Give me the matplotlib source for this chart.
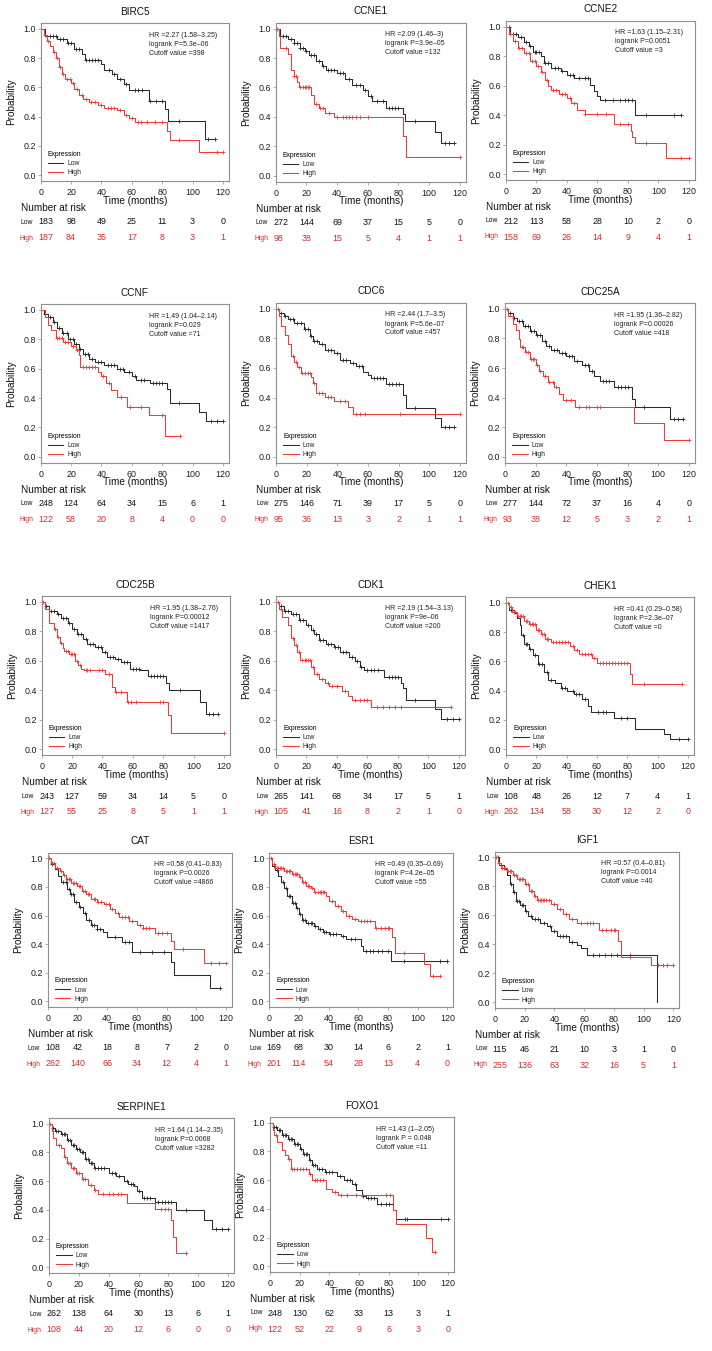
import matplotlib
import matplotlib.pyplot as plt
import numpy as np
from matplotlib import transforms

matplotlib.use("agg")
plt.rcParams["font.family"] = ["Liberation Sans", "DejaVu Sans"]

# ---------------------------------------------------------------- data
GENES = ["BIRC5", "CCNE1", "CCNE2", "CCNF", "CDC6", "CDC25A", "CDC25B",
         "CDK1", "CHEK1", "CAT", "ESR1", "IGF1", "SERPINE1", "FOXO1"]

RISK_TIMES = [0, 20, 40, 60, 80, 100, 120]

# BIRC5
BIRC5_LOW_T = [0, 3, 11, 17, 22, 27, 29, 40, 42, 47, 50, 55, 58, 71, 82, 84, 108, 115]
BIRC5_LOW_S = [1.0, 0.95, 0.93, 0.90, 0.86, 0.83, 0.79, 0.76, 0.72, 0.69, 0.66, 0.62, 0.58, 0.51, 0.45, 0.37, 0.25, 0.25]
BIRC5_LOW_C = [6, 8, 10, 13, 15, 18, 20, 23, 25, 30, 32, 34, 36, 38, 45, 48, 52, 56, 62, 64, 67, 72, 76, 80, 91, 110, 115]
BIRC5_HIGH_T = [0, 2, 4, 6, 8, 10, 12, 14, 16, 20, 22, 25, 28, 32, 38, 42, 50, 55, 58, 62, 83, 85, 104, 120]
BIRC5_HIGH_S = [1.0, 0.96, 0.92, 0.88, 0.84, 0.80, 0.74, 0.69, 0.66, 0.63, 0.59, 0.55, 0.52, 0.50, 0.48, 0.46, 0.445, 0.41, 0.39, 0.365, 0.30, 0.24, 0.16, 0.16]
BIRC5_HIGH_C = [3, 5, 9, 11, 13, 15, 17, 19, 21, 24, 27, 30, 33, 36, 40, 44, 46, 48, 52, 56, 60, 64, 66, 70, 75, 80, 91, 116, 120]
BIRC5_STATS = ["HR =2.27 (1.58–3.25)", "logrank P=5.3e–06", "Cutoff value =398"]
BIRC5_RISK_LOW = [183, 98, 49, 25, 11, 3, 0]
BIRC5_RISK_HIGH = [187, 84, 35, 17, 8, 3, 1]

# CCNE1
CCNE1_LOW_T = [0, 3, 8, 12, 16, 19, 22, 26, 30, 33, 40, 45, 50, 57, 60, 63, 72, 83, 84, 104, 108, 116]
CCNE1_LOW_S = [1.0, 0.95, 0.93, 0.90, 0.87, 0.85, 0.82, 0.78, 0.745, 0.72, 0.70, 0.655, 0.615, 0.585, 0.54, 0.505, 0.46, 0.42, 0.37, 0.295, 0.22, 0.22]
CCNE1_LOW_C = [5, 7, 10, 12, 14, 16, 18, 20, 23, 25, 28, 31, 34, 36, 38, 42, 44, 48, 52, 55, 58, 62, 66, 70, 74, 76, 78, 80, 91, 110, 113, 116]
CCNE1_HIGH_T = [0, 2, 3, 8, 10, 12, 14, 15, 23, 25, 28, 32, 38, 83, 85, 120]
CCNE1_HIGH_S = [1.0, 0.95, 0.87, 0.825, 0.72, 0.68, 0.64, 0.60, 0.55, 0.49, 0.46, 0.43, 0.40, 0.27, 0.13, 0.13]
CCNE1_HIGH_C = [1, 7, 12, 13, 16, 18, 19, 20, 21, 22, 26, 29, 31, 35, 40, 44, 46, 48, 50, 52, 55, 60, 120]
CCNE1_STATS = ["HR =2.09 (1.46–3)", "logrank P=3.9e–05", "Cutoff value =132"]
CCNE1_RISK_LOW = [272, 144, 69, 37, 15, 5, 0]
CCNE1_RISK_HIGH = [98, 38, 15, 5, 4, 1, 1]

# CCNE2
CCNE2_LOW_T = [0, 3, 8, 12, 15, 18, 23, 25, 30, 36, 40, 45, 55, 58, 60, 62, 85, 115]
CCNE2_LOW_S = [1.0, 0.95, 0.93, 0.895, 0.87, 0.83, 0.80, 0.755, 0.72, 0.70, 0.67, 0.65, 0.605, 0.56, 0.53, 0.505, 0.40, 0.40]
CCNE2_LOW_C = [2, 5, 7, 10, 13, 16, 19, 20, 22, 26, 28, 32, 34, 37, 42, 44, 48, 52, 54, 65, 70, 75, 78, 80, 83, 92, 110, 115]
CCNE2_HIGH_T = [0, 2, 5, 8, 12, 16, 20, 23, 26, 28, 30, 35, 40, 43, 47, 52, 71, 82, 83, 85, 105, 120]
CCNE2_HIGH_S = [1.0, 0.95, 0.90, 0.857, 0.82, 0.77, 0.73, 0.69, 0.64, 0.60, 0.57, 0.545, 0.515, 0.48, 0.435, 0.41, 0.34, 0.295, 0.25, 0.214, 0.107, 0.107]
CCNE2_HIGH_C = [3, 6, 9, 11, 13, 15, 17, 19, 21, 24, 27, 31, 33, 37, 39, 42, 45, 52, 60, 66, 75, 80, 92, 115, 120]
CCNE2_STATS = ["HR =1.63 (1.15–2.31)", "logrank P=0.0051", "Cutoff value =3"]
CCNE2_RISK_LOW = [212, 113, 58, 28, 10, 2, 0]
CCNE2_RISK_HIGH = [158, 69, 26, 14, 9, 4, 1]

# CCNF
CCNF_LOW_T = [0, 2, 5, 8, 11, 14, 18, 22, 25, 28, 32, 36, 42, 50, 55, 60, 63, 72, 83, 85, 104, 109, 120]
CCNF_LOW_S = [1.0, 0.97, 0.95, 0.92, 0.88, 0.84, 0.805, 0.77, 0.735, 0.70, 0.665, 0.647, 0.624, 0.60, 0.574, 0.547, 0.525, 0.50, 0.46, 0.364, 0.305, 0.244, 0.244]
CCNF_LOW_C = [3, 6, 9, 12, 15, 17, 19, 21, 23, 26, 29, 31, 34, 38, 40, 44, 46, 48, 52, 54, 58, 62, 66, 68, 74, 76, 78, 80, 91, 112, 116, 120]
CCNF_HIGH_T = [0, 3, 5, 7, 10, 15, 20, 23, 25, 26, 38, 40, 43, 46, 50, 57, 71, 82, 92]
CCNF_HIGH_S = [1.0, 0.95, 0.90, 0.86, 0.81, 0.78, 0.756, 0.727, 0.69, 0.613, 0.574, 0.55, 0.50, 0.453, 0.41, 0.34, 0.282, 0.141, 0.141]
CCNF_HIGH_C = [11, 12, 14, 16, 18, 21, 24, 28, 30, 32, 34, 36, 41, 45, 53, 59, 66, 80, 92]
CCNF_STATS = ["HR =1.49 (1.04–2.14)", "logrank P=0.029", "Cutoff value =71"]
CCNF_RISK_LOW = [248, 124, 64, 34, 15, 6, 1]
CCNF_RISK_HIGH = [122, 58, 20, 8, 4, 0, 0]

# CDC6
CDC6_LOW_T = [0, 2, 5, 8, 12, 18, 22, 24, 28, 32, 38, 42, 48, 52, 57, 60, 62, 72, 83, 85, 104, 108, 116]
CDC6_LOW_S = [1.0, 0.97, 0.95, 0.93, 0.90, 0.86, 0.814, 0.78, 0.76, 0.723, 0.70, 0.655, 0.635, 0.614, 0.575, 0.552, 0.53, 0.49, 0.416, 0.332, 0.264, 0.20, 0.20]
CDC6_LOW_C = [3, 6, 9, 11, 14, 16, 19, 21, 23, 25, 27, 30, 34, 36, 40, 44, 46, 50, 54, 56, 64, 66, 68, 70, 74, 76, 78, 80, 91, 110, 113, 116]
CDC6_HIGH_T = [0, 2, 3, 6, 8, 10, 12, 14, 16, 23, 24, 26, 32, 38, 47, 50, 120]
CDC6_HIGH_S = [1.0, 0.95, 0.88, 0.82, 0.76, 0.68, 0.64, 0.605, 0.568, 0.536, 0.50, 0.432, 0.405, 0.377, 0.336, 0.29, 0.29]
CDC6_HIGH_C = [1, 11, 13, 15, 17, 19, 21, 22, 25, 28, 30, 34, 36, 42, 45, 52, 55, 58, 81, 120]
CDC6_STATS = ["HR =2.44 (1.7–3.5)", "logrank P=5.6e–07", "Cutoff value =457"]
CDC6_RISK_LOW = [275, 146, 71, 39, 17, 5, 0]
CDC6_RISK_HIGH = [95, 36, 13, 3, 2, 1, 1]

# CDC25A
CDC25A_LOW_T = [0, 2, 5, 8, 12, 16, 20, 24, 27, 30, 35, 40, 45, 50, 55, 58, 62, 71, 83, 85, 108, 116]
CDC25A_LOW_S = [1.0, 0.97, 0.94, 0.92, 0.886, 0.85, 0.823, 0.784, 0.75, 0.723, 0.705, 0.68, 0.648, 0.618, 0.58, 0.545, 0.51, 0.473, 0.39, 0.34, 0.255, 0.255]
CDC25A_LOW_C = [3, 6, 9, 11, 13, 15, 17, 19, 21, 23, 26, 29, 32, 34, 37, 39, 42, 44, 47, 52, 54, 57, 64, 66, 68, 74, 76, 78, 80, 91, 110, 113, 116]
CDC25A_HIGH_T = [0, 2, 5, 7, 9, 10, 13, 16, 20, 22, 25, 28, 32, 35, 38, 46, 84, 104, 120]
CDC25A_HIGH_S = [1.0, 0.95, 0.90, 0.86, 0.795, 0.74, 0.71, 0.66, 0.62, 0.58, 0.545, 0.505, 0.473, 0.427, 0.382, 0.34, 0.227, 0.114, 0.114]
CDC25A_HIGH_C = [1, 11, 12, 14, 15, 17, 18, 19, 21, 23, 26, 29, 31, 33, 40, 43, 48, 53, 55, 60, 62, 120]
CDC25A_STATS = ["HR =1.95 (1.36–2.82)", "logrank P=0.00026", "Cutoff value =418"]
CDC25A_RISK_LOW = [277, 144, 72, 37, 16, 4, 0]
CDC25A_RISK_HIGH = [93, 38, 12, 5, 3, 2, 1]

# CDC25B
CDC25B_LOW_T = [0, 2, 5, 10, 13, 17, 20, 23, 27, 30, 35, 40, 43, 48, 52, 58, 65, 70, 82, 84, 104, 108, 116]
CDC25B_LOW_S = [1.0, 0.97, 0.94, 0.92, 0.89, 0.86, 0.818, 0.784, 0.75, 0.716, 0.693, 0.66, 0.625, 0.61, 0.59, 0.545, 0.535, 0.50, 0.45, 0.40, 0.318, 0.239, 0.239]
CDC25B_LOW_C = [3, 6, 8, 11, 14, 16, 18, 21, 24, 26, 29, 32, 34, 37, 39, 42, 45, 47, 50, 54, 56, 60, 62, 64, 72, 74, 76, 78, 80, 91, 110, 113, 116]
CDC25B_HIGH_T = [0, 2, 5, 8, 10, 12, 14, 15, 18, 22, 24, 26, 28, 42, 46, 48, 56, 83, 85, 120]
CDC25B_HIGH_S = [1.0, 0.95, 0.86, 0.818, 0.76, 0.72, 0.69, 0.666, 0.648, 0.60, 0.57, 0.545, 0.534, 0.51, 0.42, 0.39, 0.318, 0.23, 0.107, 0.107]
CDC25B_HIGH_C = [1, 9, 11, 13, 16, 17, 19, 20, 21, 23, 25, 29, 30, 32, 38, 40, 44, 49, 52, 57, 59, 62, 78, 80, 120]
CDC25B_STATS = ["HR =1.95 (1.38–2.76)", "logrank P=0.00012", "Cutoff value =1417"]
CDC25B_RISK_LOW = [243, 127, 59, 34, 14, 5, 0]
CDC25B_RISK_HIGH = [127, 55, 25, 8, 5, 1, 1]

# CDK1
CDK1_LOW_T = [0, 2, 5, 10, 15, 20, 23, 25, 28, 33, 38, 42, 48, 52, 55, 58, 71, 82, 83, 85, 104, 108, 120]
CDK1_LOW_S = [1.0, 0.97, 0.94, 0.92, 0.875, 0.845, 0.81, 0.78, 0.74, 0.716, 0.693, 0.66, 0.625, 0.60, 0.56, 0.54, 0.49, 0.45, 0.416, 0.334, 0.273, 0.205, 0.205]
CDK1_LOW_C = [3, 6, 8, 11, 13, 16, 18, 21, 24, 26, 29, 31, 34, 36, 39, 41, 44, 46, 50, 53, 56, 60, 62, 64, 67, 74, 76, 78, 80, 91, 112, 116, 120]
CDK1_HIGH_T = [0, 2, 4, 8, 10, 12, 14, 16, 23, 25, 28, 32, 35, 43, 47, 50, 62, 115]
CDK1_HIGH_S = [1.0, 0.95, 0.898, 0.84, 0.757, 0.705, 0.66, 0.607, 0.56, 0.51, 0.477, 0.448, 0.432, 0.398, 0.36, 0.334, 0.289, 0.289]
CDK1_HIGH_C = [1, 3, 11, 13, 15, 17, 19, 20, 21, 22, 24, 27, 30, 34, 37, 40, 45, 52, 55, 58, 60, 66, 70, 74, 78, 82, 115]
CDK1_STATS = ["HR =2.19 (1.54–3.13)", "logrank P=9e–06", "Cutoff value =200"]
CDK1_RISK_LOW = [265, 141, 68, 34, 17, 5, 1]
CDK1_RISK_HIGH = [105, 41, 16, 8, 2, 1, 0]

# CHEK1
CHEK1_LOW_T = [0, 2, 5, 7, 9, 10, 12, 15, 18, 21, 25, 28, 32, 36, 40, 45, 50, 54, 56, 71, 85, 104, 108, 120]
CHEK1_LOW_S = [1.0, 0.948, 0.93, 0.898, 0.846, 0.778, 0.717, 0.687, 0.642, 0.585, 0.528, 0.476, 0.449, 0.415, 0.40, 0.376, 0.34, 0.295, 0.256, 0.21, 0.14, 0.104, 0.07, 0.07]
CHEK1_LOW_C = [3, 11, 13, 14, 16, 19, 22, 24, 27, 30, 37, 39, 44, 46, 48, 52, 61, 64, 66, 76, 80, 114, 120]
CHEK1_HIGH_T = [0, 2, 4, 7, 12, 15, 20, 23, 26, 30, 42, 45, 48, 57, 60, 82, 83, 116]
CHEK1_HIGH_S = [1.0, 0.97, 0.94, 0.907, 0.875, 0.853, 0.816, 0.785, 0.75, 0.732, 0.703, 0.676, 0.653, 0.62, 0.59, 0.517, 0.444, 0.444]
CHEK1_HIGH_C = [1, 3, 5, 6, 8, 9, 10, 11, 13, 14, 16, 17, 18, 19, 21, 22, 24, 25, 27, 28, 31, 33, 35, 37, 39, 41, 44, 47, 50, 52, 54, 56, 58, 62, 64, 66, 68, 70, 72, 74, 76, 78, 80, 91, 116]
CHEK1_STATS = ["HR =0.41 (0.29–0.58)", "logrank P=2.3e–07", "Cutoff value =0"]
CHEK1_RISK_LOW = [108, 48, 26, 12, 7, 4, 1]
CHEK1_RISK_HIGH = [262, 134, 58, 30, 12, 2, 0]

# CAT
CAT_LOW_T = [0, 2, 5, 7, 9, 13, 15, 18, 21, 24, 26, 29, 33, 37, 40, 50, 57, 83, 85, 109, 116]
CAT_LOW_S = [1.0, 0.96, 0.926, 0.88, 0.833, 0.787, 0.748, 0.694, 0.66, 0.618, 0.572, 0.532, 0.509, 0.486, 0.451, 0.417, 0.347, 0.278, 0.185, 0.093, 0.093]
CAT_LOW_C = [3, 10, 12, 14, 16, 17, 19, 22, 25, 28, 30, 31, 33, 35, 45, 52, 55, 62, 70, 78, 116]
CAT_HIGH_T = [0, 2, 5, 8, 10, 12, 16, 20, 23, 26, 29, 33, 38, 42, 45, 48, 55, 60, 64, 72, 83, 85, 105, 120]
CAT_HIGH_S = [1.0, 0.97, 0.93, 0.914, 0.887, 0.856, 0.826, 0.81, 0.775, 0.748, 0.718, 0.694, 0.678, 0.648, 0.62, 0.59, 0.56, 0.532, 0.516, 0.475, 0.424, 0.363, 0.271, 0.271]
CAT_HIGH_C = [1, 3, 4, 6, 9, 11, 13, 14, 15, 17, 18, 19, 21, 22, 24, 25, 27, 28, 31, 32, 34, 36, 39, 41, 43, 47, 50, 52, 54, 57, 62, 64, 66, 68, 74, 77, 80, 91, 110, 115, 120]
CAT_STATS = ["HR =0.58 (0.41–0.83)", "logrank P=0.0026", "Cutoff value =4866"]
CAT_RISK_LOW = [108, 42, 18, 8, 7, 2, 0]
CAT_RISK_HIGH = [262, 140, 66, 34, 12, 4, 1]

# ESR1
ESR1_LOW_T = [0, 2, 4, 6, 8, 10, 12, 15, 18, 20, 22, 25, 30, 33, 36, 40, 48, 52, 62, 63, 82, 120]
ESR1_LOW_S = [1.0, 0.95, 0.92, 0.88, 0.838, 0.79, 0.734, 0.687, 0.653, 0.61, 0.572, 0.549, 0.525, 0.507, 0.486, 0.472, 0.456, 0.437, 0.39, 0.352, 0.282, 0.282]
ESR1_LOW_C = [3, 5, 9, 11, 13, 14, 16, 17, 19, 21, 23, 24, 26, 28, 29, 31, 34, 37, 38, 41, 43, 45, 50, 55, 58, 65, 68, 70, 73, 76, 80, 91, 115, 120]
ESR1_HIGH_T = [0, 2, 4, 10, 15, 20, 22, 25, 28, 30, 38, 40, 44, 48, 52, 56, 60, 71, 83, 85, 104, 108, 115]
ESR1_HIGH_S = [1.0, 0.96, 0.93, 0.91, 0.891, 0.868, 0.838, 0.81, 0.79, 0.762, 0.734, 0.70, 0.665, 0.63, 0.595, 0.576, 0.565, 0.51, 0.451, 0.34, 0.26, 0.174, 0.174]
ESR1_HIGH_C = [1, 3, 5, 6, 7, 8, 9, 11, 12, 13, 14, 16, 17, 18, 19, 21, 23, 24, 26, 27, 29, 31, 33, 34, 35, 36, 37, 42, 46, 50, 54, 58, 62, 64, 66, 68, 72, 75, 78, 80, 81, 91, 110, 115]
ESR1_STATS = ["HR =0.49 (0.35–0.69)", "logrank P=4.2e–05", "Cutoff value =55"]
ESR1_RISK_LOW = [169, 68, 30, 14, 6, 2, 1]
ESR1_RISK_HIGH = [201, 114, 54, 28, 13, 4, 0]

# IGF1
IGF1_LOW_T = [0, 3, 6, 8, 10, 12, 14, 17, 20, 22, 25, 30, 35, 38, 42, 50, 55, 58, 62, 109]
IGF1_LOW_S = [1.0, 0.95, 0.923, 0.876, 0.818, 0.76, 0.70, 0.67, 0.63, 0.596, 0.573, 0.549, 0.526, 0.49, 0.455, 0.414, 0.395, 0.374, 0.327, 0.0]
IGF1_LOW_C = [2, 4, 11, 13, 15, 16, 18, 19, 21, 24, 27, 29, 33, 37, 40, 44, 46, 48, 52, 66, 70, 74, 78, 82, 91]
IGF1_HIGH_T = [0, 2, 4, 8, 12, 15, 20, 23, 26, 28, 38, 42, 46, 50, 55, 70, 83, 85, 105, 120]
IGF1_HIGH_S = [1.0, 0.96, 0.93, 0.91, 0.876, 0.853, 0.818, 0.771, 0.736, 0.708, 0.678, 0.643, 0.607, 0.577, 0.549, 0.498, 0.42, 0.315, 0.257, 0.257]
IGF1_HIGH_C = [1, 3, 5, 6, 7, 9, 10, 11, 13, 14, 16, 17, 18, 19, 21, 22, 24, 25, 27, 29, 30, 31, 32, 33, 34, 36, 40, 44, 48, 52, 58, 62, 64, 66, 72, 75, 78, 80, 81, 91, 110, 113, 116, 120]
IGF1_STATS = ["HR =0.57 (0.4–0.81)", "logrank P=0.0014", "Cutoff value =40"]
IGF1_RISK_LOW = [115, 46, 21, 10, 3, 1, 0]
IGF1_RISK_HIGH = [255, 136, 63, 32, 16, 5, 1]

# SERPINE1
SERPINE1_LOW_T = [0, 2, 4, 8, 12, 15, 18, 21, 24, 27, 30, 40, 45, 50, 53, 57, 59, 62, 71, 85, 104, 109, 120]
SERPINE1_LOW_S = [1.0, 0.97, 0.947, 0.93, 0.888, 0.853, 0.823, 0.802, 0.753, 0.726, 0.69, 0.66, 0.633, 0.598, 0.58, 0.563, 0.528, 0.481, 0.458, 0.40, 0.33, 0.265, 0.265]
SERPINE1_LOW_C = [3, 5, 6, 9, 10, 11, 13, 14, 16, 17, 19, 20, 22, 23, 25, 26, 28, 29, 31, 33, 35, 37, 42, 44, 47, 52, 55, 56, 60, 64, 66, 68, 73, 76, 78, 80, 82, 92, 112, 116, 120]
SERPINE1_HIGH_T = [0, 2, 3, 5, 8, 10, 12, 15, 18, 22, 26, 30, 33, 52, 71, 82, 83, 85, 92]
SERPINE1_HIGH_S = [1.0, 0.95, 0.90, 0.85, 0.83, 0.767, 0.726, 0.69, 0.656, 0.614, 0.574, 0.54, 0.512, 0.451, 0.405, 0.33, 0.209, 0.098, 0.098]
SERPINE1_HIGH_C = [1, 7, 11, 13, 14, 16, 17, 19, 20, 23, 24, 28, 31, 36, 40, 43, 46, 48, 75, 78, 80, 92]
SERPINE1_STATS = ["HR =1.64 (1.14–2.35)", "logrank P=0.0068", "Cutoff value =3282"]
SERPINE1_RISK_LOW = [262, 138, 64, 30, 13, 6, 1]
SERPINE1_RISK_HIGH = [108, 44, 20, 12, 6, 0, 0]

# FOXO1
FOXO1_LOW_T = [0, 2, 5, 8, 12, 16, 20, 22, 26, 28, 32, 37, 45, 50, 55, 58, 62, 65, 72, 83, 85, 120]
FOXO1_LOW_S = [1.0, 0.97, 0.95, 0.916, 0.889, 0.849, 0.819, 0.784, 0.738, 0.708, 0.675, 0.657, 0.63, 0.60, 0.571, 0.529, 0.49, 0.476, 0.432, 0.39, 0.332, 0.332]
FOXO1_LOW_C = [3, 4, 6, 7, 9, 10, 11, 13, 14, 15, 17, 18, 19, 21, 23, 24, 25, 27, 29, 30, 33, 35, 38, 40, 42, 47, 52, 54, 57, 63, 66, 68, 70, 75, 78, 80, 91, 92, 115, 120]
FOXO1_HIGH_T = [0, 2, 3, 5, 8, 10, 12, 14, 26, 28, 38, 42, 46, 83, 85, 105, 109, 111]
FOXO1_HIGH_S = [1.0, 0.95, 0.912, 0.865, 0.807, 0.777, 0.75, 0.68, 0.645, 0.599, 0.54, 0.52, 0.494, 0.39, 0.292, 0.197, 0.10, 0.10]
FOXO1_HIGH_C = [4, 13, 15, 16, 18, 20, 22, 24, 27, 30, 32, 34, 36, 44, 48, 52, 58, 62, 78, 81, 111]
FOXO1_STATS = ["HR =1.43 (1–2.05)", "logrank P = 0.048", "Cutoff value =11"]
FOXO1_RISK_LOW = [248, 130, 62, 33, 13, 3, 1]
FOXO1_RISK_HIGH = [122, 52, 22, 9, 6, 3, 0]

# ---------------------------------------------------------------- layout
W, H = 712, 1351
# axes box in pixels: left, right, top, bottom
BOXES = [
    (40.7, 229, 23, 181), (275.7, 466, 22.7, 181.7), (505.7, 695, 20.7, 180),
    (40.7, 229, 304, 462.7), (276, 466, 302.7, 462.7), (505, 695, 303, 462.7),
    (41.7, 230, 596, 755), (276, 465, 596, 755), (506, 694, 597, 755),
    (47.7, 232, 852.7, 1007), (269.3, 453.3, 852.7, 1007), (495, 679.3, 851.7, 1008),
    (49, 234, 1118, 1273), (270, 454, 1117, 1272),
]

LOW_COLOR = "#2a2a2a"
HIGH_COLOR = "#f03a3a"
HIGH_TEXT = "#d42b2b"
SPINE = "#8f8f8f"


def draw_curve(ax, t, s, cens, color, label):
    t = np.asarray(t, float)
    s = np.asarray(s, float)
    (line,) = ax.step(t, s, where="post", color=color, lw=0.75, label=label)
    c = np.asarray(cens, float)
    idx = np.searchsorted(t, c, side="right") - 1
    ax.plot(c, s[idx], ls="none", marker="+", ms=3.4, mew=0.6, color=color)
    return line


def panel(fig, gene, box):
    g = globals()
    l, r, t, b = box
    ax = fig.add_axes([l / W, 1 - b / H, (r - l) / W, (b - t) / H])
    draw_curve(ax, g[gene + "_LOW_T"], g[gene + "_LOW_S"], g[gene + "_LOW_C"], LOW_COLOR, "Low")
    draw_curve(ax, g[gene + "_HIGH_T"], g[gene + "_HIGH_S"], g[gene + "_HIGH_C"], HIGH_COLOR, "High")

    ax.set_xlim(0, 124)
    ax.set_ylim(-0.04, 1.04)
    ax.set_xticks(RISK_TIMES)
    ax.set_yticks([0.0, 0.2, 0.4, 0.6, 0.8, 1.0])
    ax.set_yticklabels(["0.0", "0.2", "0.4", "0.6", "0.8", "1.0"])
    for sp in ax.spines.values():
        sp.set_color(SPINE)
        sp.set_linewidth(0.8)
    ax.tick_params(axis="both", direction="out", length=2, width=0.5,
                   color=SPINE, labelcolor="#1e1e1e", labelsize=6.4)
    ax.tick_params(axis="x", pad=3)
    ax.tick_params(axis="y", pad=1.5)

    ax.set_title(gene, fontsize=7.2, pad=6, color="#111111")
    ax.set_xlabel("Time (months)", fontsize=7.2, labelpad=-1, color="#111111")
    ax.set_ylabel("Probability", fontsize=7.2, labelpad=5.5, color="#111111")

    ax.text(0.575, 0.945, "\n".join(g[gene + "_STATS"]), transform=ax.transAxes,
            ha="left", va="top", fontsize=5, linespacing=1.4, color="#222222")

    leg = ax.legend(title="Expression", loc="lower left", bbox_to_anchor=(0.03, 0.02),
                    frameon=False, fontsize=4.9, title_fontsize=4.9,
                    handlelength=2.3, handletextpad=0.6, labelspacing=0.3,
                    borderaxespad=0, borderpad=0.2)
    for txt in leg.get_texts():
        txt.set_color("#222222")

    # number at risk table
    blend = transforms.blended_transform_factory(ax.transData, fig.transFigure)
    fig.text((l - 20) / W, 1 - (b + 27) / H, "Number at risk", fontsize=7.2,
             ha="left", va="center", color="#111111")
    rows = [("Low", g[gene + "_RISK_LOW"], "#111111", 41),
            ("High", g[gene + "_RISK_HIGH"], HIGH_TEXT, 57)]
    for name, vals, col, off in rows:
        y = 1 - (b + off) / H
        fig.text((l - 7.5) / W, y, name, fontsize=4.9, ha="right", va="center", color=col)
        for i, (xt, v) in enumerate(zip(RISK_TIMES, vals)):
            if i == 0:
                fig.text((l - 2.5) / W, y, str(v), fontsize=6.4, ha="left", va="center", color=col)
            else:
                ax.text(xt, y, str(v), transform=blend, fontsize=6.4, ha="center",
                        va="center", color=col, clip_on=False)
    return ax


fig = plt.figure(figsize=(W / 100, H / 100), dpi=100, facecolor="white")
for gene, box in zip(GENES, BOXES):
    panel(fig, gene, box)

fig.savefig("out.png", dpi=100, facecolor="white")
plt.close(fig)
